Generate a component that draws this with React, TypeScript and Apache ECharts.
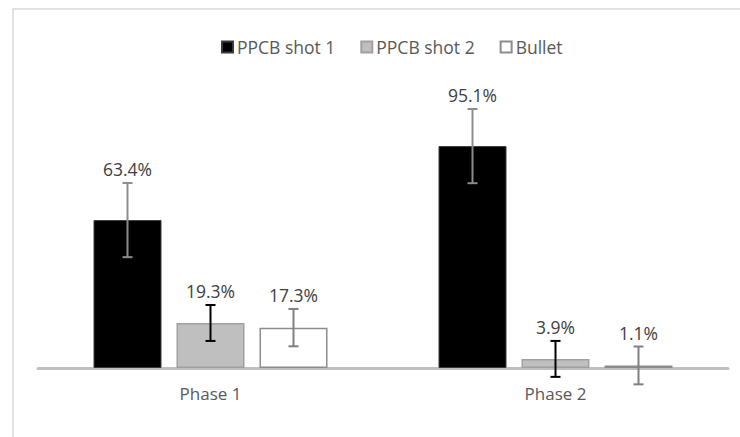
import React, { useEffect, useRef } from "react";
import * as echarts from "echarts";

const categories = ["Phase 1", "Phase 2"];
const seriesNames = ["PPCB shot 1", "PPCB shot 2", "Bullet"];
const shot1Values = [63.4, 95.1];
const shot1Errors = [15.9, 15.9];
const shot2Values = [19.3, 3.9];
const shot2Errors = [7.7, 7.7];
const bulletValues = [17.3, 1.1];
const bulletErrors = [8.0, 8.1];

const FONT = "Open Sans";
const BAR_W = 68;
const BAR_GAP = 15;

export default function App() {
  const ref = useRef<HTMLDivElement>(null);
  useEffect(() => {
    if (!ref.current) return;
    const chart = echarts.init(ref.current, undefined, { renderer: "svg" });
    const values = [shot1Values, shot2Values, bulletValues];
    const errors = [shot1Errors, shot2Errors, bulletErrors];
    const barStyles = [
      { color: "#000000", borderColor: "#3a3a3a", borderWidth: 1 },
      { color: "#bfbfbf", borderColor: "#a0a0a0", borderWidth: 1.5 },
      { color: "#ffffff", borderColor: "#8c8c8c", borderWidth: 1.5 },
    ];
    const errColors = ["#8c8c8c", "#000000", "#808080"];

    const barSeries = seriesNames.map((name, si) => ({
      name,
      type: "bar",
      data: values[si],
      barWidth: BAR_W,
      barGap: (BAR_GAP / BAR_W) * 100 + "%",
      itemStyle: barStyles[si],
      z: 2,
    }));

    const errSeries = seriesNames.map((name, si) => ({
      type: "custom",
      name: name + " err",
      clip: false,
      z: 5,
      data: categories.map((_, i) => [i, values[si][i], errors[si][i]]),
      renderItem: (params: any, api: any) => {
        const ci = api.value(0);
        const v = api.value(1);
        const e = api.value(2);
        const offset = (si - 1) * (BAR_W + BAR_GAP);
        const x = api.coord([ci, v])[0] + offset;
        const top = api.coord([ci, v + e])[1];
        const bot = api.coord([ci, v - e])[1];
        const ls = { stroke: errColors[si], lineWidth: 2 };
        return {
          type: "group",
          children: [
            { type: "line", shape: { x1: x, y1: top, x2: x, y2: bot }, style: ls },
            { type: "line", shape: { x1: x - 5, y1: top, x2: x + 5, y2: top }, style: ls },
            { type: "line", shape: { x1: x - 5, y1: bot, x2: x + 5, y2: bot }, style: ls },
            {
              type: "text",
              style: {
                text: v.toFixed(1) + "%",
                x,
                y: top - 14,
                align: "center",
                verticalAlign: "middle",
                fill: "#404040",
                fontSize: 17.5,
                fontFamily: FONT,
              },
            },
          ],
        };
      },
    }));

    chart.setOption({
      animation: false,
      backgroundColor: "#ffffff",
      graphic: [
        {
          type: "rect",
          shape: { x: 13, y: 9, width: 800, height: 500 },
          style: { fill: "none", stroke: "#d9d9d9", lineWidth: 1.5 },
          silent: true,
        },
      ],
      legend: {
        data: seriesNames,
        top: 33,
        left: 216,
        icon: "rect",
        itemWidth: 11,
        itemHeight: 11,
        itemGap: 25,
        textStyle: { color: "#595959", fontSize: 17.5, fontFamily: FONT, padding: [0, 0, 0, -1] },
      },
      grid: { left: 38, right: 12, top: 88, bottom: 69, containLabel: false },
      xAxis: {
        type: "category",
        data: categories,
        axisLine: { lineStyle: { color: "#bfbfbf", width: 3 } },
        axisTick: { show: false },
        axisLabel: { color: "#595959", fontSize: 17, fontFamily: FONT, margin: 17 },
      },
      yAxis: {
        type: "value",
        min: 0,
        max: 120,
        show: false,
        splitLine: { show: false },
      },
      series: [...barSeries, ...errSeries],
    });
    return () => chart.dispose();
  }, []);
  return (
    <div
      ref={ref}
      style={{ position: "absolute", left: 0, top: 0, width: 740, height: 437 }}
    />
  );
}
